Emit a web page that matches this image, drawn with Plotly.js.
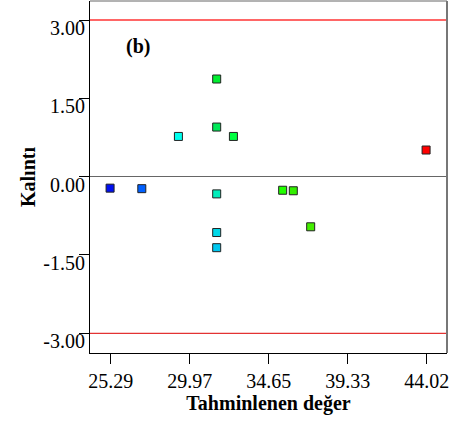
<!DOCTYPE html>
<html>
<head>
<meta charset="utf-8">
<script src="https://cdn.plot.ly/plotly-3.0.1.min.js"></script>
<style>html,body{margin:0;padding:0;background:#fff;}</style>
</head>
<body>
<div id="chart" style="width:470px;height:427px;"></div>
<script>
// Predicted values (Tahminlenen değer)
const predicted = [25.25, 27.13, 29.30, 31.57, 31.57, 31.57, 31.57, 31.57, 32.56, 35.48, 36.11, 37.14, 43.98];
// Residuals (Kalıntı)
const residuals = [-0.22, -0.23, 0.77, 1.87, 0.95, -0.33, -1.07, -1.36, 0.77, -0.26, -0.27, -0.96, 0.51];
// Point colours
const pointColors = ['#0010f0', '#0060ff', '#00ffee', '#00ee30', '#00e858', '#00eebb', '#00d8e8', '#00c8f0', '#00ff40', '#22ff00', '#33ee00', '#44ee00', '#ff0000'];
const xTickVals = [25.29, 29.97, 34.65, 39.33, 44.02];
const xTickText = ['25.29', '29.97', '34.65', '39.33', '44.02'];
const yTickVals = [-3, -1.5, 0, 1.5, 3];
const yTickText = ['-3.00', '-1.50', '0.00', '1.50', '3.00'];
const limits = [3, -3];

const font = 'Liberation Serif, Times New Roman, serif';

const trace = {
  x: predicted,
  y: residuals,
  type: 'scatter',
  mode: 'markers',
  marker: {symbol: 'square', size: 8, color: pointColors, line: {color: '#222', width: 1}},
  hoverinfo: 'x+y'
};

const layout = {
  width: 470, height: 427,
  margin: {l: 90, r: 23, t: 1, b: 74},
  paper_bgcolor: '#fff', plot_bgcolor: '#fff',
  showlegend: false,
  font: {family: font, size: 20, color: '#000'},
  xaxis: {
    range: [24.06, 45.22],
    tickvals: xTickVals, ticktext: xTickText,
    ticks: 'outside', ticklen: 10, tickwidth: 1, tickcolor: '#000',
    showgrid: false, zeroline: false,
    showline: true, linecolor: '#000', linewidth: 1,
    tickfont: {family: font, size: 20, color: '#000'},
    title: {text: '<b>Tahminlenen değer</b>', font: {family: font, size: 20, color: '#000'}, standoff: 4}
  },
  yaxis: {
    range: [-3.377, 3.364],
    tickvals: yTickVals, ticktext: yTickText,
    ticks: 'outside', ticklen: 10, tickwidth: 1, tickcolor: '#000',
    showgrid: false,
    zeroline: true, zerolinecolor: '#666', zerolinewidth: 1.5,
    showline: true, linecolor: '#000', linewidth: 1,
    ticklabelshift: 8, ticklabelstandoff: -10,
    tickfont: {family: font, size: 20, color: '#000'},
    title: {text: '<b>Kalıntı</b>', font: {family: font, size: 20, color: '#000'}, standoff: 2}
  },
  shapes: [
    {type: 'line', xref: 'paper', x0: 0, x1: 1, yref: 'y', y0: limits[0], y1: limits[0], line: {color: '#ff6666', width: 2}},
    {type: 'line', xref: 'paper', x0: 0, x1: 1, yref: 'y', y0: limits[1], y1: limits[1], line: {color: '#dd0000', width: 1}},
    {type: 'line', xref: 'paper', x0: 0, x1: 1, yref: 'paper', y0: 1, y1: 1, line: {color: '#666', width: 1}},
    {type: 'line', xref: 'paper', x0: 1, x1: 1, yref: 'paper', y0: 0, y1: 1, line: {color: '#777', width: 2}}
  ],
  annotations: [
    {text: '<b>(b)</b>', xref: 'paper', yref: 'paper', x: 0.134, y: 0.872, showarrow: false, xanchor: 'center', yanchor: 'middle', font: {family: font, size: 20, color: '#000'}}
  ]
};

Plotly.newPlot('chart', [trace], layout, {displayModeBar: false, staticPlot: true});
</script>
</body>
</html>
